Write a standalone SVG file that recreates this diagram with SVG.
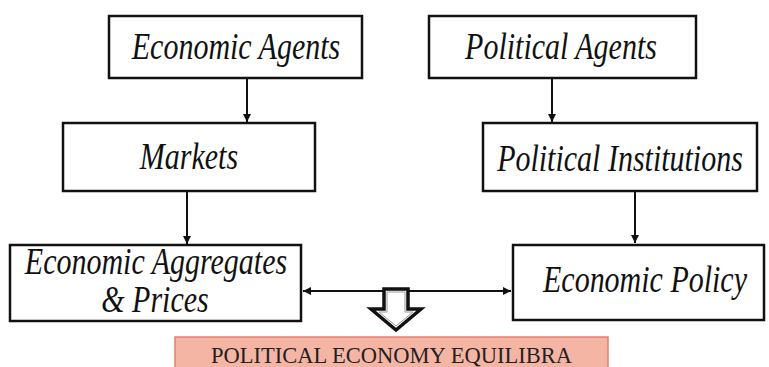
<svg xmlns="http://www.w3.org/2000/svg" width="769" height="367" viewBox="0 0 769 367">
<style>
.box{fill:#fff;stroke:#111;stroke-width:2.5}
.lbl{font-style:italic;font-size:30px;fill:#111;text-anchor:middle}
.con{stroke:#111;stroke-width:2;fill:none}
.eq{font-size:22.5px;fill:#222;text-anchor:middle}
</style>
<defs>
<marker id="ah" viewBox="0 0 10 10" refX="10" refY="5" markerWidth="4" markerHeight="4" orient="auto-start-reverse" markerUnits="strokeWidth">
<path d="M0,0 L10,5 L0,10 Z" fill="#111"/>
</marker>
</defs>
<rect width="769" height="367" fill="#fff"/>
<g id="connectors">
<line class="con" x1="247" y1="78" x2="247" y2="122" marker-end="url(#ah)"/>
<line class="con" x1="187" y1="191" x2="187" y2="244" marker-end="url(#ah)"/>
<line class="con" x1="552" y1="78" x2="552" y2="122" marker-end="url(#ah)"/>
<line class="con" x1="635" y1="191" x2="635" y2="243" marker-end="url(#ah)"/>
<line class="con" x1="303" y1="291" x2="511" y2="291" marker-start="url(#ah)" marker-end="url(#ah)"/>
<polygon id="down-arrow" points="384,289 408,289 408,309 421,309 396,330 371,309 384,309" fill="#fff" stroke="#111" stroke-width="3.5" stroke-linejoin="miter"/>
<polygon points="387,292 405,292 405,312 413,312 396,326 379,312 387,312" fill="#fff" stroke="#999" stroke-width="1"/>
</g>
<g font-family="Liberation Serif, Times New Roman, DejaVu Serif, serif">
<g id="economic-agents">
<rect class="box" x="109" y="16" width="253" height="62"/>
<text class="lbl" transform="translate(236,59) scale(1,1.25)">Economic Agents</text>
</g>
<g id="markets">
<rect class="box" x="63" y="123" width="252" height="68"/>
<text class="lbl" transform="translate(189,169) scale(1,1.25)">Markets</text>
</g>
<g id="economic-aggregates">
<rect class="box" x="10" y="245" width="291" height="76"/>
<text class="lbl" transform="translate(156,274) scale(1,1.25)">Economic Aggregates</text>
<text class="lbl" transform="translate(155,312) scale(1,1.25)">&amp; Prices</text>
</g>
<g id="political-agents">
<rect class="box" x="429" y="16" width="267" height="62"/>
<text class="lbl" transform="translate(561,59) scale(1,1.25)">Political Agents</text>
</g>
<g id="political-institutions">
<rect class="box" x="483" y="123" width="274" height="68"/>
<text class="lbl" transform="translate(620,171) scale(1,1.25)">Political Institutions</text>
</g>
<g id="economic-policy">
<rect class="box" x="513" y="245" width="251" height="75"/>
<text class="lbl" transform="translate(645,292) scale(1,1.25)">Economic Policy</text>
</g>
<g id="equilibria">
<rect x="175" y="337" width="433" height="40" fill="#F5B5A5" stroke="#E57F6E" stroke-width="1.5"/>
<text class="eq" x="391.5" y="363">POLITICAL ECONOMY EQUILIBRA</text>
</g>
</g>
</svg>
